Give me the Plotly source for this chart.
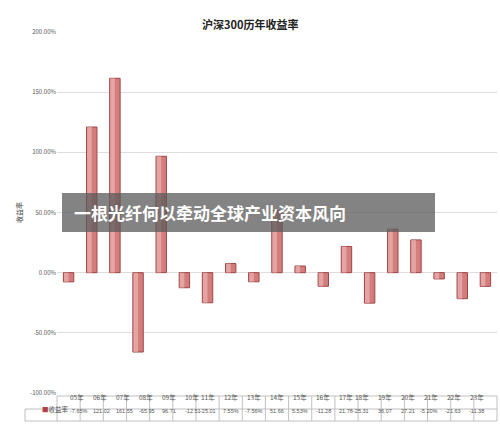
import plotly.graph_objects as go

years = ["05年","06年","07年","08年","09年","10年","11年","12年","13年","14年","15年","16年","17年","18年","19年","20年","21年","22年","23年"]
returns = [-7.65,121.02,161.55,-65.95,96.71,-12.51,-25.01,7.55,-7.56,51.66,5.53,-11.28,21.78,-25.31,36.07,27.21,-5.20,-21.63,-11.38]
labels = ["-7.65%","121.02","161.55","-65.95","96.71","-12.51","-25.01","7.55%","-7.56%","51.66","5.53%","-11.28","21.78","-25.31","36.07","27.21","-5.20%","-21.63","-11.38"]
yticks = [-100,-50,0,50,100,150,200]

W,H = 500,425
L,R,T,B = 57,3,32,32
fig = go.Figure()
fig.add_trace(go.Bar(x=list(range(len(years))), y=returns, width=0.45,
    marker=dict(color="#d47d7d", line=dict(color="#9e4444", width=1))))
fig.add_trace(go.Bar(x=list(range(len(years))), y=returns, width=0.2, offset=-0.2,
    marker=dict(color="rgba(240,190,190,0.6)", line=dict(width=0)), hoverinfo="skip"))

pw = W-L-R
def py(p): return (H-B-p)/(H-T-B)
def pxp(p): return (p-L)/pw
shapes=[]; ann=[]
lc = dict(color="#c0c0c0", width=1)
for yy in [396,409,421]:
    shapes.append(dict(type="line", xref="paper", yref="paper", x0=pxp(57 if yy==396 else 25), x1=pxp(497), y0=py(yy), y1=py(yy), line=lc))
step = pw/len(years)
for i in range(len(years)+1):
    xx = L+i*step
    shapes.append(dict(type="line", xref="paper", yref="paper", x0=pxp(xx), x1=pxp(xx), y0=py(396), y1=py(421), line=lc))
shapes.append(dict(type="line", xref="paper", yref="paper", x0=pxp(25), x1=pxp(25), y0=py(409), y1=py(421), line=lc))
for i,(yr,lb) in enumerate(zip(years,labels)):
    cx = pxp(L+(i+0.5)*step)
    ann.append(dict(x=cx, y=py(402.5), xref="paper", yref="paper", text=yr, showarrow=False, borderpad=0, font=dict(size=6.5, color="#555")))
    ann.append(dict(x=cx, y=py(415), xref="paper", yref="paper", text=lb, showarrow=False, borderpad=0, font=dict(size=5.5, color="#555", family="Liberation Sans")))
ann.append(dict(x=pxp(41), y=py(415), xref="paper", yref="paper", text="<span style='color:#b04040'>■</span>收益率", showarrow=False, borderpad=0, font=dict(size=6.5, color="#555")))
ann.append(dict(x=pxp(12), y=py(213), xref="paper", yref="paper", text="收益率", textangle=-90, showarrow=False, font=dict(size=7, color="#444")))
ann.append(dict(x=pxp(250), y=py(14), xref="paper", yref="paper", xanchor="center", text="<b>沪深300历年收益率</b>", showarrow=False, font=dict(size=11, color="#222")))
shapes.append(dict(type="rect", xref="paper", yref="paper", x0=pxp(62), x1=pxp(435), y0=py(193), y1=py(232), fillcolor="rgba(90,90,90,0.75)", line=dict(width=0)))
ann.append(dict(x=pxp(72), y=py(212.5), xref="paper", yref="paper", xanchor="left", text="<b>一根光纤何以牵动全球产业资本风向</b>", showarrow=False, font=dict(size=17, color="white")))

fig.update_layout(width=W, height=H, margin=dict(l=L,r=R,t=T,b=B), showlegend=False, barmode="overlay",
    plot_bgcolor="white", paper_bgcolor="white",
    font=dict(family="Noto Sans CJK SC"),
    xaxis=dict(range=[-0.5,len(years)-0.5], showticklabels=False, showgrid=False, zeroline=False, showline=False, ticks="", automargin=False),
    yaxis=dict(range=[-100,200], tickvals=yticks, ticktext=[f"{v:.2f}%" for v in yticks], tickfont=dict(size=6, color="#555"),
        gridcolor="#dddddd", zeroline=False, showline=False, automargin=False),
    shapes=shapes, annotations=ann)
fig.write_html("out.html", config={"displayModeBar": False},
    post_script="document.body.style.margin='0';document.body.style.overflow='hidden';")
